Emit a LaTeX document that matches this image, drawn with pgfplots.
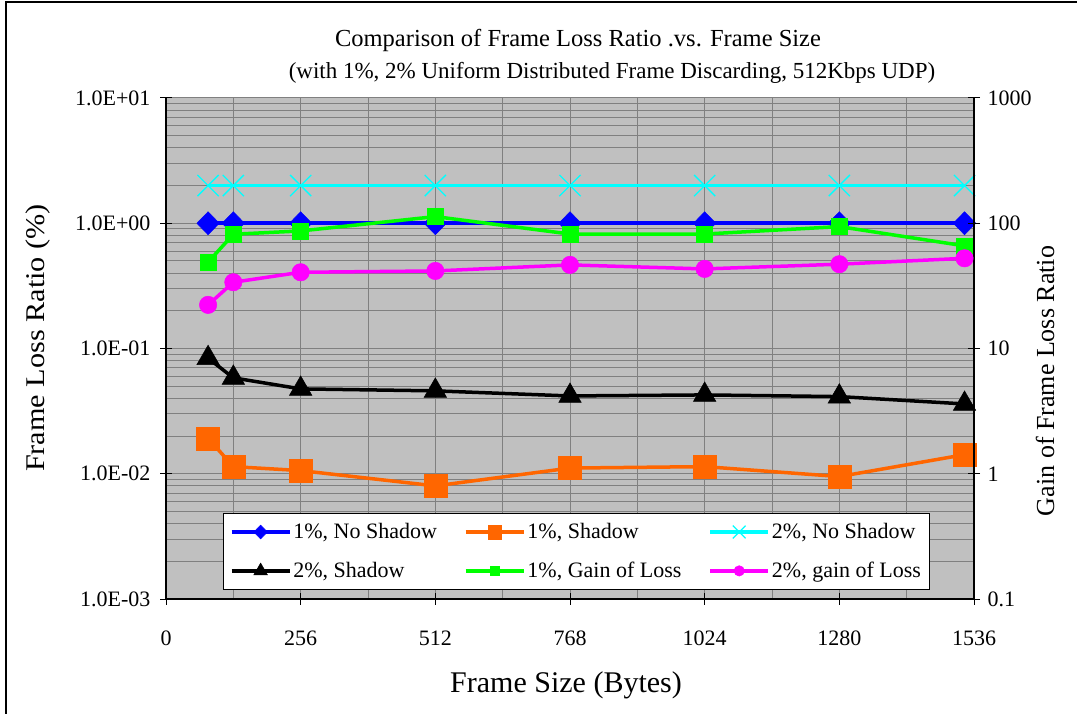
\documentclass[border=0pt]{standalone}
\usepackage{fontspec}
\setmainfont{Liberation Serif}
\usepackage{graphicx}
\usepackage{pgfplots}
\pgfplotsset{compat=1.18}
\definecolor{bggray}{RGB}{192,192,192}
\definecolor{gridgray}{RGB}{128,128,128}
\definecolor{myorange}{RGB}{255,102,0}
\definecolor{mygreen}{RGB}{0,255,0}
\definecolor{mycyan}{RGB}{0,255,255}
\definecolor{mymagenta}{RGB}{255,0,255}
\definecolor{myblue}{RGB}{0,0,255}
\newcommand{\fs}[1]{\fontsize{#1}{#1}\selectfont}

\pgfplotstableread{
x y
80 1.0
128 1.0
256 1.0
512 1.0
768 1.0
1024 1.0
1280 1.0
1518 1.0
}\noshadowA
\pgfplotstableread{
x y
80 0.0192
128 0.0114
256 0.0106
512 0.0080
768 0.0111
1024 0.0114
1280 0.0095
1518 0.0142
}\shadowA
\pgfplotstableread{
x y
80 2.0
128 2.0
256 2.0
512 2.0
768 2.0
1024 2.0
1280 2.0
1518 2.0
}\noshadowB
\pgfplotstableread{
x y
80 0.0837
128 0.0583
256 0.0476
512 0.0459
768 0.0418
1024 0.0426
1280 0.0413
1518 0.0361
}\shadowB
\pgfplotstableread{
x y
80 48.9
128 81.7
256 86.8
512 113
768 82
1024 82
1280 94
1518 66
}\gainA
\pgfplotstableread{
x y
80 22.3
128 33.8
256 40.6
512 41.6
768 46.5
1024 43.2
1280 47.1
1518 52.5
}\gainB

\pgfplotsset{
  sblue/.style={color=myblue, line width=3.5pt, mark=diamond*, mark size=11.5pt, mark options={solid, fill=myblue, draw=myblue, line width=0.5pt, xscale=1.3}},
  sorange/.style={color=myorange, line width=3.5pt, mark=square*, mark size=11.5pt, mark options={solid, fill=myorange, draw=myorange, line width=0.5pt}},
  scyan/.style={color=mycyan, line width=3.5pt, mark=x, mark size=15pt, mark options={solid, draw=mycyan, line width=1.3pt}},
  sblack/.style={color=black, line width=3.5pt, mark=triangle*, mark size=13pt, mark options={solid, fill=black, draw=black, line width=0.5pt}},
  sgreen/.style={color=mygreen, line width=3.5pt, mark=square*, mark size=8pt, mark options={solid, fill=mygreen, draw=mygreen, line width=0.5pt}},
  smagenta/.style={color=mymagenta, line width=3.5pt, mark=*, mark size=8.7pt, mark options={solid, fill=mymagenta, draw=mymagenta, line width=0.5pt}},
  common/.style={
    at={(166pt,114pt)}, anchor=south west, scale only axis,
    width=808pt, height=501pt, xmin=0, xmax=1536, clip=false,
    tick align=center, major tick length=12pt, minor tick length=0pt,
    every tick/.style={black, line width=1pt},
    axis line style={black, line width=1.3pt},
    tick label style={font=\fs{22}},
  },
}

\begin{document}
\begin{tikzpicture}[x=1pt,y=1pt]
\useasboundingbox (0,0) rectangle (1077,713);
\draw[line width=1.5pt] (6,-2) -- (6,711) -- (1080,711);

\begin{axis}[common,
  axis x line*=bottom, axis y line*=left,
  axis background/.style={fill=bggray},
  ymode=log, ymin=1e-3, ymax=10,
  xtick={0,256,512,768,1024,1280,1536},
  xticklabels={\mbox{0},\mbox{256},\mbox{512},\mbox{768},\mbox{1024},\mbox{1280},\mbox{1536}},
  minor xtick={128,384,640,896,1152,1408},
  ytick={1e-3,1e-2,1e-1,1,10},
  yticklabels={\mbox{1.0E-03},\mbox{1.0E-02},\mbox{1.0E-01},\mbox{1.0E+00},\mbox{1.0E+01}},
  minor ytick={0.002,0.003,0.004,0.005,0.006,0.007,0.008,0.009,
               0.02,0.03,0.04,0.05,0.06,0.07,0.08,0.09,
               0.2,0.3,0.4,0.5,0.6,0.7,0.8,0.9,
               2,3,4,5,6,7,8,9},
  xmajorgrids, xminorgrids, ymajorgrids, yminorgrids,
  major grid style={gridgray, line width=1pt},
  minor grid style={gridgray, line width=1pt},
  xticklabel style={yshift=-22pt},
  yticklabel style={xshift=-6pt},
]
\addplot[sblue] table[x=x,y=y] {\noshadowA};
\addplot[sorange] table[x=x,y=y] {\shadowA};
\addplot[scyan] table[x=x,y=y] {\noshadowB};
\addplot[sblack] table[x=x,y=y] {\shadowB};
\end{axis}

\begin{axis}[common,
  axis x line=none, axis y line*=right,
  ymode=log, ymin=0.1, ymax=1000,
  ytick={0.1,1,10,100,1000},
  yticklabels={\mbox{0.1},\mbox{1},\mbox{10},\mbox{100},\mbox{1000}},
  minor ytick={},
  yticklabel style={xshift=4pt},
  legend columns=3,
  legend style={at={(0.508,0.0948)}, anchor=center, draw=black, line width=1pt, fill=white,
    font=\fs{22}, inner xsep=6pt, inner ysep=8pt, row sep=18pt,
    /tikz/every even column/.append style={column sep=25pt}},
  legend cell align=left,
  legend image code/.code={\draw[mark repeat=2, mark phase=2, every mark/.append style={scale=0.6}] plot coordinates {(0pt,0pt) (29pt,0pt) (58pt,0pt)};},
]
\addlegendimage{sblue}\addlegendentry{1\%, No Shadow}
\addlegendimage{sorange}\addlegendentry{1\%, Shadow}
\addlegendimage{scyan}\addlegendentry{2\%, No Shadow}
\addlegendimage{sblack}\addlegendentry{2\%, Shadow}
\addplot[sgreen] table[x=x,y=y] {\gainA};
\addlegendentry{1\%, Gain of Loss}
\addplot[smagenta] table[x=x,y=y] {\gainB};
\addlegendentry{2\%, gain of Loss}
\end{axis}

\node[font=\fs{24.5}] at (578,673) {Comparison of Frame Loss Ratio .vs. Frame Size};
\node[font=\fs{23}] at (612,640) {(with 1\%, 2\% Uniform Distributed Frame Discarding, 512Kbps UDP)};
\node[font=\fs{27}, rotate=90] at (38,375) {\scalebox{1.12}[1]{Frame Loss Ratio (\%)}};
\node[font=\fs{26}, rotate=90] at (1045,332) {Gain of Frame Loss Ratio};
\node[font=\fs{30}] at (566,28) {Frame Size (Bytes)};
\end{tikzpicture}
\end{document}
